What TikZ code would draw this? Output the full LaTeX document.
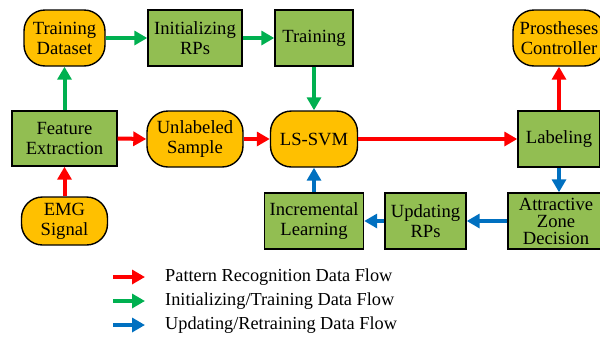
\documentclass[tikz,border=0pt]{standalone}
\usepackage{fontspec}
\setmainfont{Liberation Serif}
\usetikzlibrary{arrows.meta}
\definecolor{boxorange}{RGB}{255,192,0}
\definecolor{boxgreen}{RGB}{146,190,82}
\definecolor{flowred}{RGB}{255,0,0}
\definecolor{flowgreen}{RGB}{0,176,80}
\definecolor{flowblue}{RGB}{0,112,192}
\begin{document}
\begin{tikzpicture}[x=1pt,y=-1pt,
  base/.style={draw=black,line width=1.4pt,inner sep=0pt,align=center,
    font=\rmfamily\fontsize{18.6}{20}\selectfont,minimum height=56pt},
  procbox/.style={base,rectangle,fill=boxgreen},
  databox/.style={base,rectangle,rounded corners=21pt,fill=boxorange},
  flow/.style={line width=4pt,-{Triangle[length=13pt,width=14pt]}},
  pr/.style={flow,draw=flowred},
  it/.style={flow,draw=flowgreen},
  ur/.style={flow,draw=flowblue},
  legtext/.style={anchor=west,inner sep=0pt,font=\rmfamily\fontsize{18.3}{20}\selectfont}]
\path[use as bounding box,clip] (0,0) rectangle (600,338);
\node[databox,minimum width=81pt] (td) at (64.5,38) {Training\\Dataset};
\node[procbox,minimum width=94pt] (ir) at (195,38) {Initializing\\RPs};
\node[procbox,minimum width=78pt] (tr) at (314,38) {Training};
\node[databox,minimum width=92pt] (pc) at (559,38) {Prostheses\\Controller};
\node[procbox,minimum width=105pt,minimum height=55pt] (fe) at (64.5,138.5) {Feature\\Extraction};
\node[databox,minimum width=96pt] (us) at (195,139) {Unlabeled\\Sample};
\node[databox,minimum width=87pt] (svm) at (314,139) {LS-SVM};
\node[procbox,minimum width=82pt] (lab) at (559,139) {Labeling};
\node[databox,minimum width=86pt,minimum height=48pt] (emg) at (64.5,221) {EMG\\Signal};
\node[procbox,minimum width=99pt] (il) at (314,221) {Incremental\\Learning};
\node[procbox,minimum width=81pt] (ur) at (425.5,221) {Updating\\RPs};
\node[procbox,minimum width=96pt,font=\rmfamily\fontsize{18.6}{17}\selectfont] (az) at (556,221) {Attractive\\Zone\\Decision};
% green flows
\draw[it] (fe.north) -- (td.south);
\draw[it] (td.east) -- (ir.west);
\draw[it] (ir.east) -- (tr.west);
\draw[it] (tr.south) -- (svm.north);
% red flows
\draw[pr] (emg.north) -- (fe.south);
\draw[pr] (fe.east) -- (us.west);
\draw[pr] (us.east) -- (svm.west);
\draw[pr] (svm.east) -- (lab.west);
\draw[pr] (lab.north) -- (pc.south);
% blue flows
\draw[ur] (lab.south) -- (lab.south |- az.north);
\draw[ur] (az.west) -- (ur.east);
\draw[ur] (ur.west) -- (il.east);
\draw[ur] (il.north) -- (svm.south);
% legend
\coordinate (l1a) at (113,277); \coordinate (l1b) at (145,277);
\coordinate (l2a) at (113,301); \coordinate (l2b) at (145,301);
\coordinate (l3a) at (113,325); \coordinate (l3b) at (145,325);
\draw[pr] (l1a) -- (l1b);
\draw[it] (l2a) -- (l2b);
\draw[ur] (l3a) -- (l3b);
\node[legtext] (t1) at (165,277) {Pattern Recognition Data Flow};
\node[legtext] (t2) at (165,301) {Initializing/Training Data Flow};
\node[legtext] (t3) at (165,325) {Updating/Retraining Data Flow};
\end{tikzpicture}
\end{document}
